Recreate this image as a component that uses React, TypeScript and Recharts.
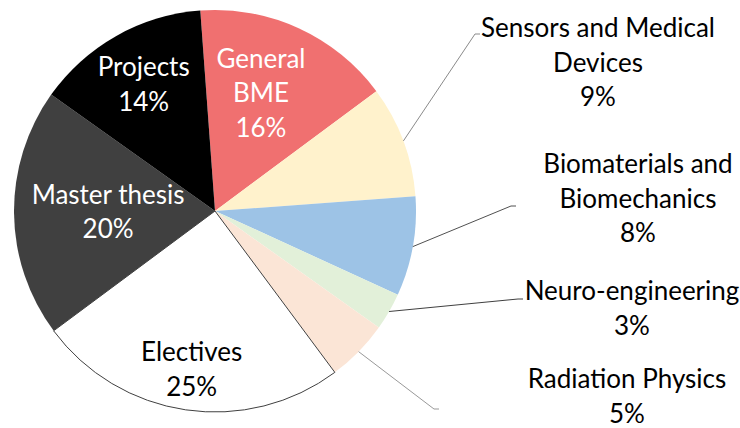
import { Cell, Pie, PieChart } from "recharts";

if (typeof document !== "undefined") document.body.style.margin = "0";

const categories = [
  "General BME",
  "Sensors and Medical Devices",
  "Biomaterials and Biomechanics",
  "Neuro-engineering",
  "Radiation Physics",
  "Electives",
  "Master thesis",
  "Projects"
];
const shares = [16, 9, 8, 3, 5, 25, 20, 14];
const labelRows = [
  ["General", "BME"],
  ["Sensors and Medical", "Devices"],
  ["Biomaterials and", "Biomechanics"],
  ["Neuro-engineering"],
  ["Radiation Physics"],
  ["Electives"],
  ["Master thesis"],
  ["Projects"]
];

const colors = ["#F07070", "#FFF2CC", "#9DC3E6", "#E2F0D9", "#FBE5D6", "#FFFFFF", "#404040", "#000000"];
const strokes = ["none", "none", "none", "none", "none", "#404040", "none", "none"];

// label placement: inside labels sit on the mid angle, outside ones get an elbow leader
type LabelSpot =
  | { inside: true; r: number; nx: number; color: string }
  | { inside: false; ex: number; ey: number; tx: number; ty: number; line: string };

const spots: LabelSpot[] = [
  { inside: true, r: 0.645, nx: -8, color: "#fff" },
  { inside: false, ex: 260, ey: -177, tx: 383, ty: -184, line: "#8a8a8a" },
  { inside: false, ex: 296, ey: -5, tx: 423, ty: -48, line: "#505050" },
  { inside: false, ex: 303, ey: 88, tx: 417, ty: 79, line: "#404040" },
  { inside: false, ex: 219, ey: 198, tx: 412, ty: 167, line: "#999999" },
  { inside: true, r: 0.796, nx: 0, color: "#000" },
  { inside: true, r: 0.532, nx: 0, color: "#fff" },
  { inside: true, r: 0.723, nx: 0, color: "#fff" }
];

const chartData = categories.map((name, i) => ({ name, value: shares[i] }));

const RAD = Math.PI / 180;
const LINE_H = 34.5;
const FONT = "Lato, 'Open Sans', sans-serif";

function SliceLabel(props: any) {
  const { cx, cy, midAngle, outerRadius, index } = props;
  const spot = spots[index];
  const rows = [...labelRows[index], `${shares[index]}%`];
  const cos = Math.cos(-midAngle * RAD);
  const sin = Math.sin(-midAngle * RAD);

  if (spot.inside) {
    const r = outerRadius * spot.r;
    const x = cx + r * cos + spot.nx;
    const top = cy + r * sin - ((rows.length - 1) * LINE_H) / 2 - 1;
    return (
      <text textAnchor="middle" dominantBaseline="central" fill={spot.color} fontFamily={FONT} fontSize={26}>
        {rows.map((row, i) => (
          <tspan key={i} x={x} y={top + i * LINE_H}>
            {row}
          </tspan>
        ))}
      </text>
    );
  }

  const sx = cx + outerRadius * cos;
  const sy = cy + outerRadius * sin;
  const ex = cx + spot.ex;
  const ey = cy + spot.ey;
  const tx = cx + spot.tx;
  const ty = cy + spot.ty;
  return (
    <g>
      <path d={`M${sx},${sy}L${ex},${ey}L${ex + 5},${ey}`} stroke={spot.line} strokeWidth={1} fill="none" />
      <text textAnchor="middle" dominantBaseline="central" fill="#000" fontFamily={FONT} fontSize={26}>
        {rows.map((row, i) => (
          <tspan key={i} x={tx} y={ty + i * LINE_H}>
            {row}
          </tspan>
        ))}
      </text>
    </g>
  );
}

export default function App() {
  return (
    <PieChart width={740} height={428} margin={{ top: 0, right: 0, bottom: 0, left: 0 }}>
      <Pie
        data={chartData}
        dataKey="value"
        nameKey="name"
        cx={215}
        cy={211}
        outerRadius={201}
        startAngle={94.2}
        endAngle={-265.8}
        label={SliceLabel}
        labelLine={false}
        isAnimationActive={false}
      >
        {chartData.map((d, i) => (
          <Cell key={d.name} fill={colors[i]} stroke={strokes[i]} strokeWidth={1} />
        ))}
      </Pie>
    </PieChart>
  );
}
